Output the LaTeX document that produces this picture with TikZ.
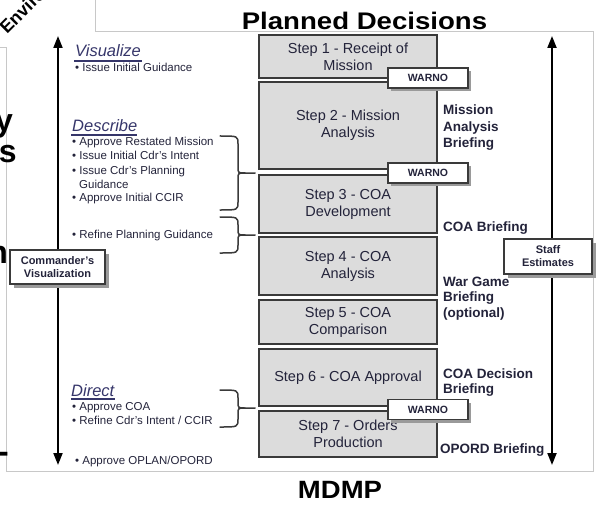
\documentclass[tikz,border=0pt]{standalone}
\usepackage{fontspec}
\setmainfont{Liberation Sans}
\usetikzlibrary{arrows.meta,shadows}

\definecolor{framegray}{HTML}{C8C8C8}
\definecolor{stepfill}{HTML}{DCDCDC}
\definecolor{stepline}{HTML}{3A3A3A}
\definecolor{ink}{HTML}{23233A}
\definecolor{headink}{HTML}{36366A}
\definecolor{shadowgray}{HTML}{9A9A9A}

% right-pointing curly brace: top, tip, bottom (y values), x fixed by the left column
\newcommand\curlybrace[3]{%
  \draw[bracepath] (220,#1) .. controls (238,#1) and (238,#1) .. (238,#1+8)
    -- (238,#2-6) .. controls (238,#2) and (238,#2) .. (245,#2) -- (255,#2);
  \draw[bracepath] (245,#2) .. controls (238,#2) and (238,#2) .. (238,#2+6)
    -- (238,#3-8) .. controls (238,#3) and (238,#3) .. (220,#3);
}

\begin{document}
\begin{tikzpicture}[x=1pt,y=-1pt,
  framebox/.style={draw=framegray, line width=0.8pt},
  stepbox/.style={draw=stepline, line width=1.5pt, fill=stepfill, minimum width=178pt,
    inner sep=0pt, align=center, font=\fontsize{14.5}{17}\selectfont, text=ink},
  warnbox/.style={draw=stepline, line width=1.4pt, fill=white, minimum width=80pt,
    minimum height=20pt, inner sep=0pt, font=\fontsize{10.5}{12}\selectfont\bfseries, text=ink,
    drop shadow={shadow xshift=3pt, shadow yshift=-3pt, fill=shadowgray, opacity=1}},
  notebox/.style={draw=stepline, line width=1.1pt, fill=white, inner sep=0pt, align=center,
    font=\fontsize{11}{13}\selectfont\bfseries, text=ink,
    drop shadow={shadow xshift=4pt, shadow yshift=-4pt, fill=shadowgray, opacity=1}},
  head/.style={anchor=base west, inner sep=0pt, font=\fontsize{16.5}{18}\selectfont\itshape, text=headink},
  item/.style={anchor=base west, inner sep=0pt, font=\fontsize{11.5}{13}\selectfont, text=ink},
  brief/.style={anchor=base west, inner sep=0pt, font=\fontsize{13.5}{16}\selectfont\bfseries, text=ink},
  big/.style={inner sep=0pt, font=\fontsize{32}{32}\selectfont\bfseries},
  timeline/.style={line width=2pt, {Triangle[width=9pt,length=12pt]}-{Triangle[width=9pt,length=12pt]}},
  bracepath/.style={line width=1.5pt, draw=stepline, line cap=round},
  uline/.style={line width=1.4pt, draw=headink}
]
\useasboundingbox (0,0) rectangle (596,505);
\clip (0,0) rectangle (596,505);

% background frames
\draw[framebox] (0,47) -- (6,47) -- (6,471) -- (593,471) -- (593,31) -- (95,31) -- (95,0);

% fragments of the surrounding slide
\node[big, anchor=base west, rotate=45, font=\fontsize{18}{18}\selectfont\bfseries] (env) at (7,35) {Environment};
\node[big, anchor=base east] (fy) at (13,132) {y};
\node[big, anchor=base east] (fs) at (17,163) {ss};
\node[big, anchor=base east] (fn) at (8,263) {n};
\node[big, anchor=base east] (fd) at (9,462) {-};

% titles
\node[anchor=base, inner sep=0pt, xscale=1.15, font=\fontsize{24}{24}\selectfont\bfseries] (title) at (364.5,29.5) {Planned Decisions};
\node[anchor=base, inner sep=0pt, xscale=1.1, font=\fontsize{25}{25}\selectfont\bfseries] (mdmp) at (340,498) {MDMP};

% time lines
\coordinate (ltop) at (58,36);
\coordinate (lbot) at (58,465);
\coordinate (rtop) at (552,36);
\coordinate (rbot) at (552,465);
\draw[timeline] (ltop) -- (lbot);
\draw[timeline] (rtop) -- (rbot);

% MDMP steps
\node[stepbox, minimum height=43pt] (s1) at (348,56.5) {Step 1 - Receipt of\\Mission};
\node[stepbox, minimum height=87pt] (s2) at (348,125.5) {Step 2 - Mission\\Analysis};
\node[stepbox, minimum height=58pt] (s3) at (348,204) {Step 3 - COA\\Development};
\node[stepbox, minimum height=58pt] (s4) at (348,266) {Step 4 - COA\\Analysis};
\node[stepbox, minimum height=44pt] (s5) at (348,322) {Step 5 - COA\\Comparison};
\node[stepbox, minimum height=57pt] (s6) at (348,377.5) {Step 6 - COA Approval};
\node[stepbox, minimum height=46pt] (s7) at (348,434) {Step 7 - Orders\\Production};

% warning orders
\node[warnbox] (w1) at (428,78) {WARNO};
\node[warnbox] (w2) at (428,173) {WARNO};
\node[warnbox] (w3) at (428,409.5) {WARNO};

% side boxes
\node[notebox, minimum width=95pt, minimum height=34pt] (cv) at (57.5,267) {Commander's\\Visualization};
\node[notebox, minimum width=88pt, minimum height=35pt] (se) at (548,256.5) {Staff\\Estimates};

% briefings
\node[brief] (b1a) at (443,115) {Mission};
\node[brief] (b1b) at (443,132) {Analysis};
\node[brief] (b1c) at (443,148) {Briefing};
\node[brief] (b2) at (443,231) {COA Briefing};
\node[brief] (b3a) at (443,286) {War Game};
\node[brief] (b3b) at (443,301.5) {Briefing};
\node[brief] (b3c) at (443,317) {(optional)};
\node[brief] (b4a) at (443,378) {COA Decision};
\node[brief] (b4b) at (443,393) {Briefing};
\node[brief] (b5) at (440,453) {OPORD Briefing};

% commander's activities
\node[head] (hv) at (75,57) {Visualize};
\draw[uline] (74,61) -- (142,61);
\node[item] (v1) at (75,72) {• Issue Initial Guidance};

\node[head] (hd) at (72,131.5) {Describe};
\draw[uline] (71,135) -- (137,135);
\node[item] (d1) at (72,146) {• Approve Restated Mission};
\node[item] (d2) at (72,160) {• Issue Initial Cdr's Intent};
\node[item] (d3) at (72,174) {• Issue Cdr's Planning};
\node[item] (d4) at (79,188) {Guidance};
\node[item] (d5) at (72,201) {• Approve Initial CCIR};
\node[item] (d6) at (72,238) {• Refine Planning Guidance};

\node[head] (hr) at (71,396) {Direct};
\draw[uline] (71,399) -- (115,399);
\node[item] (r1) at (72,410) {• Approve COA};
\node[item] (r2) at (72,424) {• Refine Cdr's Intent / CCIR};
\node[item] (r3) at (75,464) {• Approve OPLAN/OPORD};

% braces tying activities to step transitions
\curlybrace{136}{173}{210}
\curlybrace{217}{235}{253}
\curlybrace{390}{408}{427}
\end{tikzpicture}
\end{document}
